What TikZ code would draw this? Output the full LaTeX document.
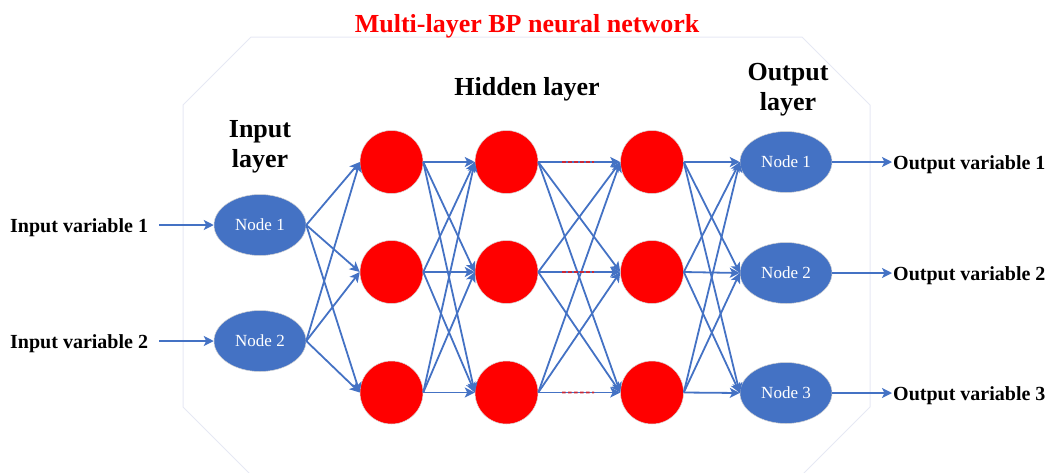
\documentclass[tikz,border=0pt]{standalone}
\usepackage{fontspec}
\setmainfont{Liberation Serif}
\usetikzlibrary{arrows.meta,calc,shapes.geometric}
\definecolor{netblue}{RGB}{68,114,196}
\definecolor{octgray}{RGB}{230,232,244}
\definecolor{dotred}{RGB}{200,40,55}

\begin{document}
\begin{tikzpicture}[x=1pt,y=-1pt,
    conn/.style={netblue,line width=1.8pt,-{Stealth[length=10pt,width=10pt,inset=2.5pt]}},
    innode/.style={ellipse,fill=netblue,draw=gray!35,line width=0.5pt,minimum width=92pt,minimum height=61pt,inner sep=0pt,text=white,font=\fontsize{17}{17}\selectfont},
    hidnode/.style={circle,fill=red,draw=gray!30,line width=0.5pt,minimum size=63pt,inner sep=0pt},
    varlab/.style={inner sep=0pt,font=\fontsize{20}{20}\selectfont\bfseries},
    headlab/.style={align=center,inner sep=0pt,anchor=north,font=\fontsize{26}{30}\selectfont\bfseries}]
  \useasboundingbox (0,0) rectangle (1048,472);
  \draw[octgray,line width=1pt] (251,37) -- (802,37) -- (870,105) -- (870,407)
    -- (802,475) -- (251,475) -- (183,407) -- (183,105) -- cycle;
  \node[headlab,text=red] (title) at (527,14) {Multi-layer BP neural network};
  \node[headlab] (inhead) at (260,120) {Input\\layer};
  \node[headlab] (hidhead) at (527,77) {Hidden layer};
  \node[headlab] (outhead) at (788,63) {Output\\layer};
  \node[innode] (i1) at (260,225) {Node 1};
  \node[innode] (i2) at (260,341) {Node 2};
  \foreach \c/\x in {1/391.5,2/506.5,3/652}
    \foreach \r/\y in {1/162,2/272,3/392.5}
      \node[hidnode] (h\c\r) at (\x,\y) {};
  \node[innode] (o1) at (786,162) {Node 1};
  \node[innode] (o2) at (786,273) {Node 2};
  \node[innode] (o3) at (786,393) {Node 3};
  \node[varlab,anchor=base west] (x1) at (10,232) {Input variable 1};
  \node[varlab,anchor=base west] (x2) at (10,348) {Input variable 2};
  \node[varlab,anchor=base west] (y1) at (893,169) {Output variable 1};
  \node[varlab,anchor=base west] (y2) at (893,280) {Output variable 2};
  \node[varlab,anchor=base west] (y3) at (893,400) {Output variable 3};
  \foreach \a in {1,2} {
    \draw[conn,shorten <=11pt] (x\a.east |- i\a) -- (i\a);
    \foreach \b in {1,2,3}
      \draw[conn] (i\a.east) -- (h1\b.west);
  }
  \foreach \a in {1,2,3} {
    \foreach \b in {1,2,3} {
      \draw[conn] (h1\a.east) -- (h2\b.west);
      \draw[conn] (h2\a.east) -- (h3\b.west);
      \draw[conn] (h3\a.east) -- (o\b.west);
    }
    \draw[conn,shorten >=1pt] (o\a) -- (y\a.west |- o\a);
  }
  \foreach \r in {1,2,3}
    \draw[dotred,line width=1.6pt,dash pattern=on 3.5pt off 2.5pt]
      ($(h2\r.east)!0.29!(h3\r.west)$) -- ($(h2\r.east)!0.68!(h3\r.west)$);
\end{tikzpicture}
\end{document}
